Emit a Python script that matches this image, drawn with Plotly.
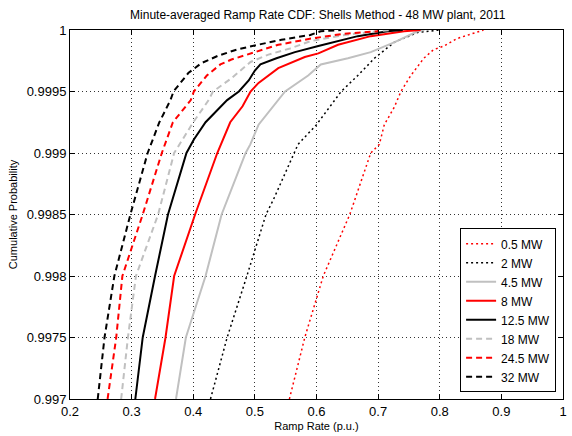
import plotly.graph_objects as go

# ---- data ----
names = ["0.5 MW", "2 MW", "4.5 MW", "8 MW", "12.5 MW", "18 MW", "24.5 MW", "32 MW"]

x_05 = [0.556, 0.581, 0.611, 0.654, 0.688, 0.702, 0.710, 0.726, 0.737, 0.753, 0.774, 0.790, 0.807, 0.828, 0.865, 0.871]
y_05 = [0.997, 0.9975, 0.998, 0.9985, 0.999, 0.99907, 0.99923, 0.99937, 0.9995, 0.99963, 0.99977, 0.99984, 0.99987, 0.99993, 0.99999, 1.0]

x_2 = [0.428, 0.455, 0.487, 0.518, 0.530, 0.564, 0.570, 0.600, 0.620, 0.640, 0.667, 0.694, 0.726, 0.764, 0.800]
y_2 = [0.997, 0.9975, 0.998, 0.9985, 0.99862, 0.999, 0.99907, 0.99923, 0.99937, 0.9995, 0.99963, 0.99977, 0.99990, 0.99998, 1.0]

x_45 = [0.372, 0.388, 0.420, 0.446, 0.485, 0.4926, 0.506, 0.538, 0.549, 0.5865, 0.607, 0.651, 0.688, 0.726, 0.764, 0.775]
y_45 = [0.997, 0.9975, 0.998, 0.9985, 0.999, 0.99907, 0.99923, 0.99943, 0.9995, 0.99963, 0.99972, 0.99977, 0.99982, 0.99990, 0.99999, 1.0]

x_8 = [0.338, 0.355, 0.369, 0.403, 0.439, 0.460, 0.480, 0.493, 0.506, 0.538, 0.581, 0.603, 0.635, 0.688, 0.742, 0.769]
y_8 = [0.997, 0.9975, 0.998, 0.9985, 0.999, 0.99925, 0.99938, 0.9995, 0.99957, 0.99969, 0.99978, 0.99981, 0.99988, 0.99995, 0.99999, 1.0]

x_125 = [0.306, 0.318, 0.338, 0.359, 0.389, 0.401, 0.420, 0.455, 0.474, 0.490, 0.500, 0.509, 0.535, 0.565, 0.603, 0.667, 0.715, 0.740]
y_125 = [0.997, 0.9975, 0.998, 0.9985, 0.999, 0.99911, 0.99925, 0.99943, 0.9995, 0.99959, 0.99967, 0.99972, 0.99977, 0.99982, 0.99987, 0.99995, 0.99999, 1.0]

x_18 = [0.283, 0.294, 0.307, 0.343, 0.369, 0.400, 0.425, 0.432, 0.460, 0.493, 0.522, 0.557, 0.591, 0.646, 0.700, 0.720]
y_18 = [0.997, 0.9975, 0.998, 0.9985, 0.999, 0.99925, 0.99943, 0.9995, 0.9996, 0.99974, 0.9998, 0.99985, 0.99991, 0.99996, 0.99999, 1.0]

x_245 = [0.261, 0.275, 0.285, 0.318, 0.349, 0.367, 0.396, 0.401, 0.422, 0.444, 0.462, 0.500, 0.538, 0.591, 0.645, 0.699, 0.700]
y_245 = [0.997, 0.9975, 0.998, 0.9985, 0.999, 0.99925, 0.99943, 0.9995, 0.99963, 0.99972, 0.99976, 0.99982, 0.99988, 0.99993, 0.99997, 0.99999, 1.0]

x_32 = [0.245, 0.256, 0.272, 0.298, 0.326, 0.345, 0.363, 0.368, 0.392, 0.413, 0.440, 0.470, 0.505, 0.543, 0.590, 0.607, 0.640]
y_32 = [0.997, 0.9975, 0.998, 0.9985, 0.999, 0.99925, 0.99943, 0.9995, 0.99965, 0.99973, 0.99979, 0.99984, 0.99988, 0.99992, 0.99996, 0.99999, 1.0]

xs = [x_05, x_2, x_45, x_8, x_125, x_18, x_245, x_32]
ys = [y_05, y_2, y_45, y_8, y_125, y_18, y_245, y_32]

x_ticks = [0.2, 0.3, 0.4, 0.5, 0.6, 0.7, 0.8, 0.9, 1.0]
x_ticklabels = ["0.2", "0.3", "0.4", "0.5", "0.6", "0.7", "0.8", "0.9", "1"]
y_ticks = [0.997, 0.9975, 0.998, 0.9985, 0.999, 0.9995, 1.0]
y_ticklabels = ["0.997", "0.9975", "0.998", "0.9985", "0.999", "0.9995", "1"]

# ---- styles ----
colors = ["#ff0000", "#000000", "#c0c0c0", "#ff0000", "#000000", "#c0c0c0", "#ff0000", "#000000"]
dashes = ["2px,3px", "2px,3px", "solid", "solid", "solid", "6px,4px", "6px,4px", "6px,4px"]
widths = [1.5, 1.5, 2, 2, 2, 2, 2, 2]

fig = go.Figure()
for name, x, y, c, d, w in zip(names, xs, ys, colors, dashes, widths):
    fig.add_trace(go.Scatter(x=x, y=y, mode="lines", name=name,
                             line=dict(color=c, dash=d, width=w)))

font = "Liberation Sans, Arial, sans-serif"
fig.update_layout(
    width=572, height=436,
    margin=dict(l=70, r=5, t=30, b=37),
    paper_bgcolor="white", plot_bgcolor="white",
    font=dict(family=font, size=12, color="#000"),
    title=dict(text="Minute-averaged Ramp Rate CDF: Shells Method - 48 MW plant, 2011",
               x=0.5554, xanchor="center", y=0.965, yanchor="middle",
               font=dict(size=12)),
    showlegend=True,
    legend=dict(x=0.986, xanchor="right", y=0.018, yanchor="bottom",
                bgcolor="white", bordercolor="#000", borderwidth=1,
                font=dict(size=12), tracegroupgap=0),
)
fig.update_xaxes(range=[0.2, 1.0], tickvals=x_ticks, ticktext=x_ticklabels,
                 showline=True, linecolor="#000", linewidth=1, mirror="ticks",
                 ticks="inside", ticklen=5, tickcolor="#000",
                 showgrid=True, gridcolor="#333", gridwidth=1, griddash="1px,3px",
                 zeroline=False, tickfont=dict(size=13),
                 title=dict(text="Ramp Rate (p.u.)", font=dict(size=11), standoff=4))
fig.update_yaxes(range=[0.997, 1.0], tickvals=y_ticks, ticktext=y_ticklabels,
                 showline=True, linecolor="#000", linewidth=1, mirror="ticks",
                 ticks="inside", ticklen=5, tickcolor="#000",
                 showgrid=True, gridcolor="#333", gridwidth=1, griddash="1px,3px",
                 zeroline=False, tickfont=dict(size=13),
                 title=dict(text="Cumulative Probability", font=dict(size=11), standoff=6))

fig.write_html("out.html")
